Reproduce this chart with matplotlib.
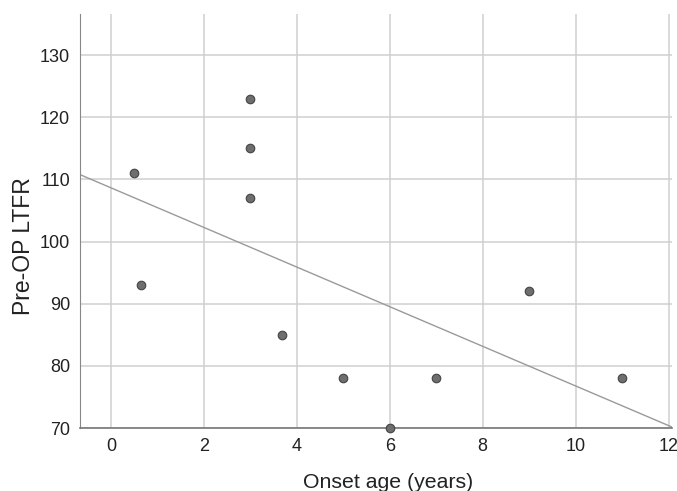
import matplotlib
matplotlib.use("Agg")
import matplotlib.pyplot as plt
import numpy as np

onset_age = [0.5, 0.65, 3, 3, 3, 3.67, 5, 6, 7, 9, 11]
pre_op_ltfr = [111, 93, 123, 115, 107, 85, 78, 70, 78, 92, 78]
x_ticks = [0, 2, 4, 6, 8, 10, 12]
y_ticks = [70, 80, 90, 100, 110, 120, 130]

plt.rcParams['font.family'] = ['Liberation Sans', 'DejaVu Sans']

fig = plt.figure(figsize=(6.77, 4.91), dpi=100)
ax = fig.add_axes([0.118, 0.128, 0.875, 0.8435])

xmin, xmax = -0.67, 12.08
ymin, ymax = 70, 136.6
ax.set_xlim(xmin, xmax)
ax.set_ylim(ymin, ymax)

ax.set_xticks(x_ticks)
ax.set_yticks(y_ticks)
ax.grid(True, color='#cfcfcf', linewidth=1.1)
ax.set_axisbelow(True)

slope, intercept = np.polyfit(onset_age, pre_op_ltfr, 1)
xs = np.array([xmin, xmax])
ax.plot(xs, intercept + slope * xs, color='#9a9a9a', linewidth=1.0, zorder=2)

ax.scatter(onset_age, pre_op_ltfr, s=38, color='#6e6e6e', edgecolor='#444444',
           linewidth=0.8, zorder=3, clip_on=False)

for s in ['top', 'right']:
    ax.spines[s].set_visible(False)
ax.spines['left'].set_color('#888888')
ax.spines['bottom'].set_color('#777777')
ax.spines['bottom'].set_linewidth(1.2)

ax.tick_params(axis='both', length=0, labelsize=13, colors='#222222', pad=7)
ax.set_xlabel('Onset age (years)', fontsize=15.3, color='#222222')
ax.set_ylabel('Pre-OP LTFR', fontsize=16.5, color='#222222')
ax.xaxis.set_label_coords(0.521, -0.109)
ax.yaxis.set_label_coords(-0.076, 0.44)

fig.savefig('out.png', dpi=100, facecolor='white')
